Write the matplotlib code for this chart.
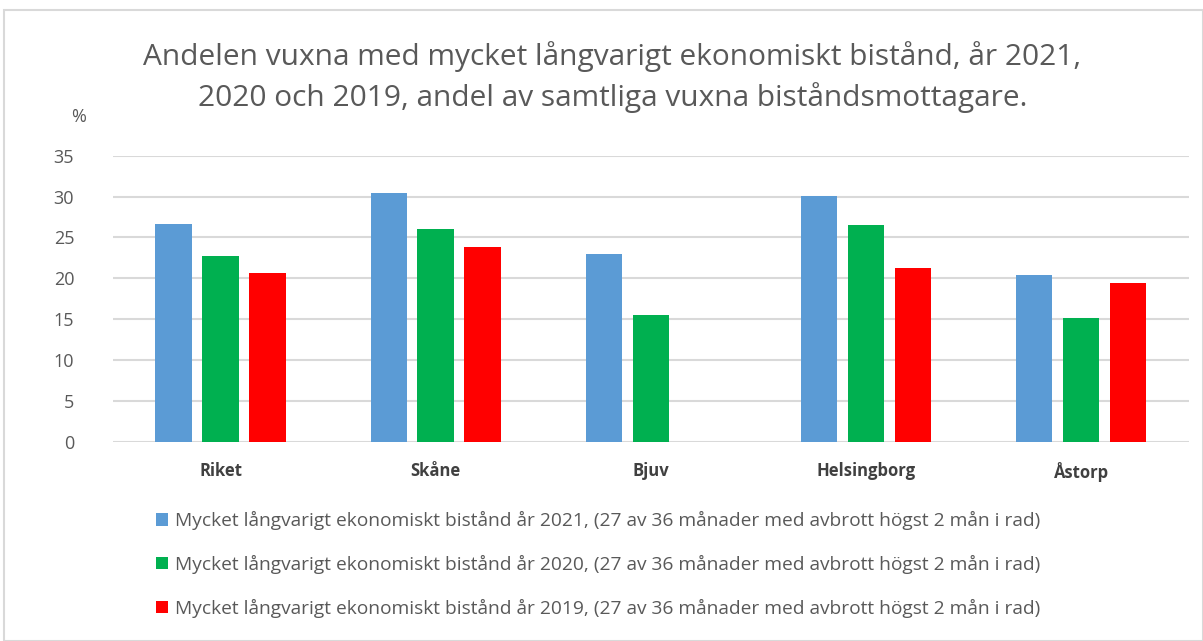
import numpy as np
import matplotlib.pyplot as plt
from matplotlib.patches import Rectangle

categories = ['Riket', 'Skåne', 'Bjuv', 'Helsingborg', 'Åstorp']
andel_2021 = [26.7, 30.4, 23.0, 30.1, 20.4]
andel_2020 = [22.7, 26.0, 15.5, 26.5, 15.1]
andel_2019 = [20.7, 23.8, np.nan, 21.2, 19.4]
labels = [
    'Mycket långvarigt ekonomiskt bistånd år 2021, (27 av 36 månader med avbrott högst 2 mån i rad)',
    'Mycket långvarigt ekonomiskt bistånd år 2020, (27 av 36 månader med avbrott högst 2 mån i rad)',
    'Mycket långvarigt ekonomiskt bistånd år 2019, (27 av 36 månader med avbrott högst 2 mån i rad)',
]
colors = ['#5b9bd5', '#00b050', '#ff0000']

plt.rcParams['font.family'] = ['Open Sans', 'DejaVu Sans']

fig = plt.figure(figsize=(12.03, 6.41), dpi=100)
fig.patches.append(Rectangle((0.003, 0.0), 0.997, 0.984, transform=fig.transFigure,
                             fill=False, edgecolor='#d9d9d9', linewidth=1.5))
ax = fig.add_axes([0.094, 0.311, 0.894, 0.446])

x = np.arange(len(categories))
w = 0.17
step = 0.218
for i, (vals, col, lab) in enumerate(zip([andel_2021, andel_2020, andel_2019], colors, labels)):
    ax.bar(x + (i - 1) * step, vals, width=w, color=col, label=lab, zorder=3)

ax.set_xlim(-0.5, len(categories) - 0.5)
ax.set_ylim(0, 35)
ax.set_yticks(range(0, 36, 5))
ax.yaxis.grid(True, color='#d9d9d9', linewidth=1.5, zorder=0)
for s in ax.spines.values():
    s.set_visible(False)
ax.tick_params(axis='both', length=0)
ax.tick_params(axis='y', labelsize=13, labelcolor='#595959', pad=28)
ax.set_xticks(x)
ax.set_xticklabels(categories, fontsize=12, fontweight='bold', color='#404040')
ax.tick_params(axis='x', pad=15)

fig.text(0.059, 0.817, '%', fontsize=13, color='#595959', ha='left', va='center')
fig.text(0.509, 0.912, 'Andelen vuxna med mycket långvarigt ekonomiskt bistånd, år 2021,',
         fontsize=21.5, color='#595959', ha='center', va='center')
fig.text(0.509, 0.848, '2020 och 2019, andel av samtliga vuxna biståndsmottagare.',
         fontsize=21.5, color='#595959', ha='center', va='center')

leg = fig.legend(loc='upper left', bbox_to_anchor=(0.123, 0.215), ncol=1, frameon=False,
                 fontsize=13.8, handlelength=0.65, handleheight=0.65, handletextpad=0.35,
                 labelspacing=1.3, borderaxespad=0)
for t in leg.get_texts():
    t.set_color('#595959')

fig.savefig('out.png', dpi=100)
